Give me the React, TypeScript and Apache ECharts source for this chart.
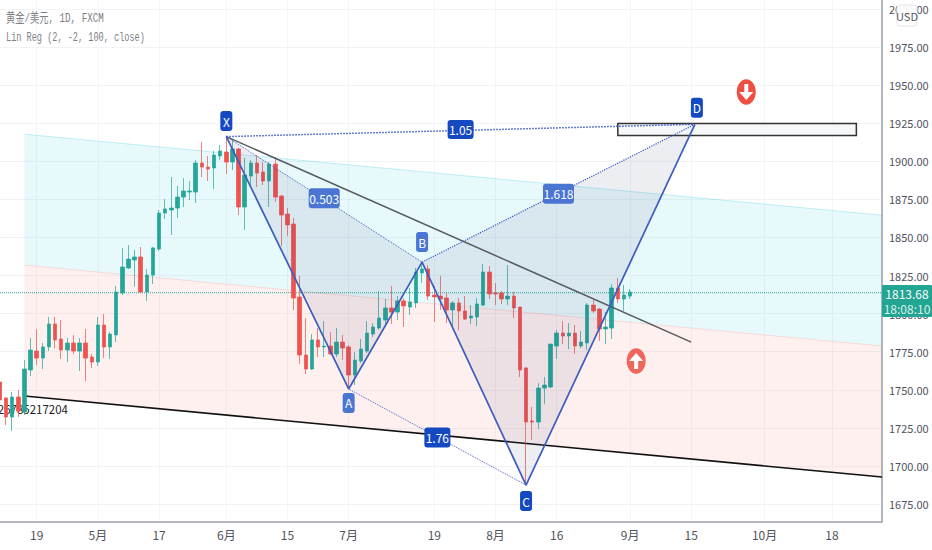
import React, { useEffect, useRef } from "react";
import * as echarts from "echarts";

// Daily gold candles: index 0 is the first bar on the left
const opens = [1755.1,1744.6,1732.1,1745.2,1735.4,1763.0,1775.4,1770.8,1778.1,1793.2,1783.3,1776.1,1780.7,1775.4,1780.7,1771.5,1768.2,1792.5,1778.1,1786.0,1813.5,1829.9,1835.2,1837.2,1814.2,1825.3,1842.4,1866.0,1868.0,1869.3,1876.5,1879.8,1879.8,1898.9,1896.2,1895.6,1903.5,1906.1,1899.5,1908.1,1870.0,1890.3,1898.9,1893.0,1887.1,1898.2,1877.2,1865.4,1858.8,1810.9,1772.8,1763.6,1782.7,1778.1,1778.7,1773.5,1781.3,1778.1,1759.7,1768.9,1775.4,1786.6,1790.5,1795.8,1803.7,1801.0,1808.3,1804.3,1807.0,1826.6,1829.3,1812.2,1811.5,1810.2,1802.4,1807.0,1801.7,1797.1,1797.8,1805.6,1827.3,1813.5,1813.5,1809.6,1811.5,1804.3,1764.3,1729.5,1728.8,1751.1,1751.8,1778.7,1787.2,1785.3,1787.2,1778.7,1780.7,1805.6,1803.0,1789.9,1790.5,1816.8,1809.6,1811.5];
const closes = [1743.3,1732.1,1745.2,1736.0,1763.6,1776.1,1770.8,1778.1,1793.2,1782.7,1776.1,1780.7,1775.4,1780.7,1770.8,1768.2,1792.5,1778.1,1786.6,1814.2,1830.6,1835.8,1837.2,1814.2,1825.3,1843.1,1866.0,1868.7,1869.3,1876.5,1880.5,1880.5,1898.9,1896.2,1894.9,1904.1,1906.8,1899.5,1908.1,1870.0,1891.0,1898.9,1892.3,1887.1,1898.2,1876.5,1864.7,1858.2,1810.2,1772.8,1763.6,1782.7,1778.1,1778.7,1773.5,1781.3,1777.4,1759.7,1769.5,1776.7,1787.2,1791.2,1797.1,1803.7,1801.0,1808.3,1805.0,1807.6,1827.3,1829.3,1811.5,1810.9,1809.6,1802.4,1807.0,1801.7,1796.4,1798.4,1806.3,1827.3,1812.9,1812.9,1809.6,1811.5,1803.7,1763.0,1728.8,1728.8,1751.1,1753.1,1780.0,1787.2,1785.3,1787.2,1778.7,1781.3,1805.6,1801.7,1789.9,1791.2,1816.8,1809.6,1812.2,1814.2];
const lows = [1731.4,1726.8,1722.9,1732.1,1733.4,1759.0,1766.2,1763.6,1775.4,1777.4,1770.2,1768.2,1773.5,1762.3,1755.7,1764.2,1765.6,1770.8,1770.2,1781.3,1812.2,1829.3,1817.5,1813.5,1808.3,1819.4,1841.1,1862.1,1851.6,1862.8,1870.0,1874.6,1872.6,1889.7,1887.1,1881.8,1900.8,1891.7,1894.3,1864.7,1854.9,1883.1,1883.1,1884.4,1870.0,1873.3,1844.4,1850.9,1802.4,1766.9,1760.3,1763.0,1771.5,1771.5,1772.8,1771.5,1769.5,1751.1,1753.1,1767.6,1774.1,1784.6,1789.2,1792.5,1793.2,1795.8,1791.2,1799.1,1803.7,1820.1,1808.9,1794.5,1802.4,1793.8,1791.2,1789.2,1795.8,1793.2,1791.8,1805.0,1809.6,1805.6,1806.3,1805.6,1797.1,1758.4,1687.4,1717.0,1724.2,1740.6,1751.1,1770.2,1780.0,1776.7,1773.5,1777.4,1776.1,1800.4,1782.0,1780.0,1783.3,1806.9,1801.7,1809.6];
const highs = [1757.7,1745.2,1748.5,1749.8,1769.5,1784.0,1789.9,1780.7,1797.8,1797.8,1795.8,1784.0,1785.9,1784.0,1789.9,1773.5,1797.8,1799.7,1787.9,1818.1,1843.1,1845.0,1841.7,1843.7,1829.3,1843.7,1868.0,1875.2,1889.7,1883.8,1889.0,1887.1,1900.8,1912.7,1903.5,1906.8,1910.7,1916.6,1914.0,1908.7,1902.2,1900.8,1904.1,1899.5,1899.5,1902.8,1877.9,1869.3,1862.8,1824.7,1797.1,1786.6,1790.5,1795.1,1787.9,1790.5,1785.9,1779.4,1774.8,1783.3,1795.1,1793.8,1814.8,1809.6,1818.1,1811.5,1810.2,1816.8,1829.9,1833.2,1831.9,1818.1,1824.7,1813.5,1808.3,1810.2,1811.5,1805.6,1810.2,1832.6,1831.2,1820.1,1814.8,1831.9,1814.2,1804.3,1764.9,1738.7,1754.4,1758.4,1780.0,1789.2,1795.1,1793.8,1792.5,1788.6,1806.9,1808.9,1803.7,1801.0,1819.4,1823.4,1818.8,1816.1];

// Axes
const xTickIndex = [6, 16, 26, 37, 47, 57, 71, 81, 91, 103, 113, 125, 136];
const xTickLabels = ["19", "5月", "17", "6月", "15", "7月", "19", "8月", "16", "9月", "15", "10月", "18"];
const priceTicks = [1675, 1700, 1725, 1750, 1775, 1800, 1825, 1850, 1875, 1900, 1925, 1950, 1975, 2000];
const xMax = 144.19;
const yMin = 1663.5;
const yMax = 2005.9;
const lastPrice = 1813.68;

// Linear regression channel: [bar index, price]
const channelUpper = [[4, 1917.8], [xMax, 1864.6]];
const channelMiddle = [[4, 1831.8], [xMax, 1778.7]];
const channelLower = [[4, 1745.9], [xMax, 1692.7]];

// Harmonic pattern points: [bar index, price]
const ptX = [37, 1916.2];
const ptA = [57, 1750.5];
const ptB = [69, 1833.8];
const ptC = [86, 1687.4];
const ptD = [113.6, 1924.3];

const trendLine = [[37, 1916.2], [113, 1781.3]];
const targetBox = [[101, 1924.8], [140, 1917.0]];
const downArrow = [122, 1945.5];
const upArrow = [104, 1768.9];

const mono = "'Liberation Mono', 'Noto Sans CJK SC', monospace";
const narrow = "'Liberation Sans Narrow', 'Noto Sans CJK SC', Roboto, sans-serif";
const GREEN = "#26a69a";
const RED = "#ef5350";
const GREEN_WICK = "rgba(38,166,154,0.72)";
const RED_WICK = "rgba(239,83,80,0.72)";
const DARK = "#1549c2";
const LIGHT = "#4a75d3";

function mid(a: number[], b: number[]) {
  return [(a[0] + b[0]) / 2, (a[1] + b[1]) / 2];
}

function polygon(points: number[][], fill: string, z: number, stroke?: string, lineWidth?: number) {
  return {
    type: "custom",
    coordinateSystem: "cartesian2d",
    silent: true,
    z,
    clip: true,
    encode: { x: 0, y: 1 },
    data: points,
    renderItem: (params: any, api: any) => {
      if (params.dataIndex !== 0) return null;
      return {
        type: "polygon",
        shape: { points: points.map((p) => api.coord(p)) },
        style: { fill, stroke: stroke || "none", lineWidth: lineWidth || 0 },
      };
    },
  };
}

function line(points: number[][], color: string, width: number, z: number, type = "solid") {
  return {
    type: "line",
    silent: true,
    data: points,
    showSymbol: false,
    symbol: "none",
    animation: false,
    z,
    lineStyle: { color, width, type },
  };
}

function tag(point: number[], text: string, color: string, dy: number, w: number, h: number, dx = 0) {
  return {
    type: "custom",
    coordinateSystem: "cartesian2d",
    silent: true,
    z: 12,
    clip: false,
    encode: { x: 0, y: 1 },
    data: [point],
    renderItem: (_p: any, api: any) => {
      const c = api.coord(point);
      const cx = c[0] + dx;
      const cy = c[1] + dy;
      return {
        type: "group",
        children: [
          {
            type: "rect",
            shape: { x: cx - w / 2, y: cy - h / 2, width: w, height: h, r: 3 },
            style: { fill: color },
          },
          {
            type: "text",
            x: cx,
            y: cy,
            style: {
              text,
              fill: "#ffffff",
              font: `12px ${narrow}`,
              align: "center",
              verticalAlign: "middle",
            },
          },
        ],
      };
    },
  };
}

function arrowMark(point: number[], fill: string, down: boolean) {
  return {
    type: "custom",
    coordinateSystem: "cartesian2d",
    silent: true,
    z: 12,
    encode: { x: 0, y: 1 },
    data: [point],
    renderItem: (_p: any, api: any) => {
      const c = api.coord(point);
      const s = down ? 1 : -1;
      const a = (dx: number, dy: number) => [c[0] + dx, c[1] + s * dy];
      return {
        type: "group",
        children: [
          {
            type: "ellipse",
            shape: { cx: c[0], cy: c[1], rx: 9.5, ry: 12.7 },
            style: { fill },
          },
          {
            type: "polygon",
            shape: {
              points: [a(-2, -8), a(2, -8), a(2, 0), a(7, 0), a(0, 8), a(-7, 0), a(-2, 0)],
            },
            style: { fill: "#ffffff" },
          },
        ],
      };
    },
  };
}

export default function App() {
  const ref = useRef<HTMLDivElement>(null);
  useEffect(() => {
    document.body.style.margin = "0";
    const chart = echarts.init(ref.current!, undefined, { renderer: "svg" });
    const candles = opens.map((o, i) => [i, o, closes[i], lows[i], highs[i]]);
    chart.setOption({
      animation: false,
      backgroundColor: "#ffffff",
      grid: { left: 0, top: 0, width: 882, height: 521.5, containLabel: false },
      xAxis: {
        type: "value",
        min: 0,
        max: xMax,
        axisLine: { show: true, onZero: false, lineStyle: { color: "#b2b5be", width: 2 } },
        axisTick: { show: false, customValues: xTickIndex },
        splitLine: { show: true, lineStyle: { color: "#f3f5f9", width: 1 } },
        axisLabel: {
          customValues: xTickIndex,
          formatter: (v: number) => xTickLabels[xTickIndex.indexOf(v)] ?? "",
          color: "#50535e",
          fontSize: 12,
          fontFamily: narrow,
          margin: 7,
        },
      },
      yAxis: {
        type: "value",
        position: "right",
        min: yMin,
        max: yMax,
        axisLine: { show: true, onZero: false, lineStyle: { color: "#b2b5be", width: 2 } },
        axisTick: { show: false, customValues: priceTicks },
        splitLine: { show: true, lineStyle: { color: "#f1f3f7", width: 1 } },
        axisLabel: {
          customValues: priceTicks,
          formatter: (v: number) => v.toFixed(2),
          color: "#50535e",
          fontSize: 11,
          fontFamily: narrow,
          margin: 7,
          align: "left",
        },
      },
      graphic: [
        {
          type: "text",
          x: 6,
          y: 19,
          scaleX: 0.71,
          z: 50,
          style: { text: "黄金/美元, 1D, FXCM", fill: "#7d7f88", font: `13px ${mono}`, verticalAlign: "middle" },
        },
        {
          type: "text",
          x: 6,
          y: 37,
          scaleX: 0.66,
          z: 50,
          style: { text: "Lin Reg (2, -2, 100, close)", fill: "#7d7f88", font: `13px ${mono}`, verticalAlign: "middle" },
        },
        {
          type: "text",
          x: 68,
          y: 409,
          z: 0,
          style: { text: "1747.9826785217204", fill: "#222222", font: `11.5px ${narrow}`, align: "right", verticalAlign: "middle" },
        },
        {
          type: "rect",
          z: 60,
          shape: { x: 897, y: 5, width: 20, height: 21, r: 3 },
          style: { fill: "rgba(255,255,255,0.92)", stroke: "#e0e3eb", lineWidth: 1 },
        },
        {
          type: "text",
          x: 907,
          y: 16,
          z: 61,
          style: { text: "USD", fill: "#50535e", font: `11px ${narrow}`, align: "center", verticalAlign: "middle" },
        },
        {
          type: "rect",
          z: 60,
          shape: { x: 882, y: 285, width: 50, height: 32, r: 1 },
          style: { fill: "#22a592" },
        },
        {
          type: "text",
          x: 907,
          y: 293,
          z: 61,
          style: { text: lastPrice.toFixed(2), fill: "#ffffff", font: `12px ${narrow}`, align: "center", verticalAlign: "middle" },
        },
        {
          type: "text",
          x: 907,
          y: 308,
          z: 61,
          style: { text: "18:08:10", fill: "rgba(255,255,255,0.85)", font: `12px ${narrow}`, align: "center", verticalAlign: "middle" },
        },
      ],
      series: [
        polygon([channelUpper[0], channelUpper[1], channelMiddle[1], channelMiddle[0]], "rgba(0,188,212,0.09)", 1),
        polygon([channelMiddle[0], channelMiddle[1], channelLower[1], channelLower[0]], "rgba(255,82,82,0.085)", 1),
        line(channelUpper, "rgba(0,188,212,0.22)", 1, 2),
        line(channelMiddle, "rgba(255,82,82,0.16)", 1, 2),
        line(channelLower, "#111111", 1.5, 2),
        line([[0, lastPrice], [xMax, lastPrice]], GREEN, 1, 3, "dotted"),
        {
          type: "candlestick",
          silent: true,
          z: 5,
          barWidth: 4,
          encode: { x: 0, y: [1, 2, 3, 4] },
          data: candles,
          itemStyle: {
            color: GREEN,
            color0: RED,
            borderColor: GREEN_WICK,
            borderColor0: RED_WICK,
            borderWidth: 1,
          },
        },
        polygon([ptX, ptA, ptB], "rgba(50,62,100,0.085)", 6),
        polygon([ptB, ptC, ptD], "rgba(50,62,100,0.085)", 6),
        polygon(
          [targetBox[0], [targetBox[1][0], targetBox[0][1]], targetBox[1], [targetBox[0][0], targetBox[1][1]]],
          "rgba(244,246,248,0.85)",
          7,
          "#333333",
          1.5
        ),
        line(trendLine, "#565a60", 1.5, 8),
        line([ptX, ptA, ptB, ptC, ptD], "#3c5dbd", 1.7, 9),
        line([ptX, ptB], "#4460c8", 1, 9, "dotted"),
        line([ptA, ptC], "#4460c8", 1, 9, "dotted"),
        line([ptB, ptD], "#3553c8", 1.2, 9, "dotted"),
        line([ptX, ptD], "#3553c8", 1.5, 9, "dotted"),
        tag(ptX, "X", DARK, -15.5, 12, 20),
        tag(ptA, "A", LIGHT, 14, 12, 20),
        tag(ptB, "B", LIGHT, -20, 12, 20),
        tag(ptC, "C", DARK, 16, 12, 20),
        tag(ptD, "D", DARK, -16.5, 12, 20, 2),
        tag(mid(ptX, ptB), "0.503", LIGHT, -1, 31, 20),
        tag(mid(ptB, ptD), "1.618", LIGHT, 0.5, 31, 20),
        tag(mid(ptX, ptD), "1.05", DARK, -1, 26, 19),
        tag(mid(ptA, ptC), "1.76", DARK, 0.5, 26, 20),
        arrowMark(downArrow, "#ee4f43", true),
        arrowMark(upArrow, "#ef675c", false),
      ],
    });
    return () => chart.dispose();
  }, []);
  return <div ref={ref} style={{ position: "absolute", left: 0, top: 0, width: 932, height: 550 }} />;
}
